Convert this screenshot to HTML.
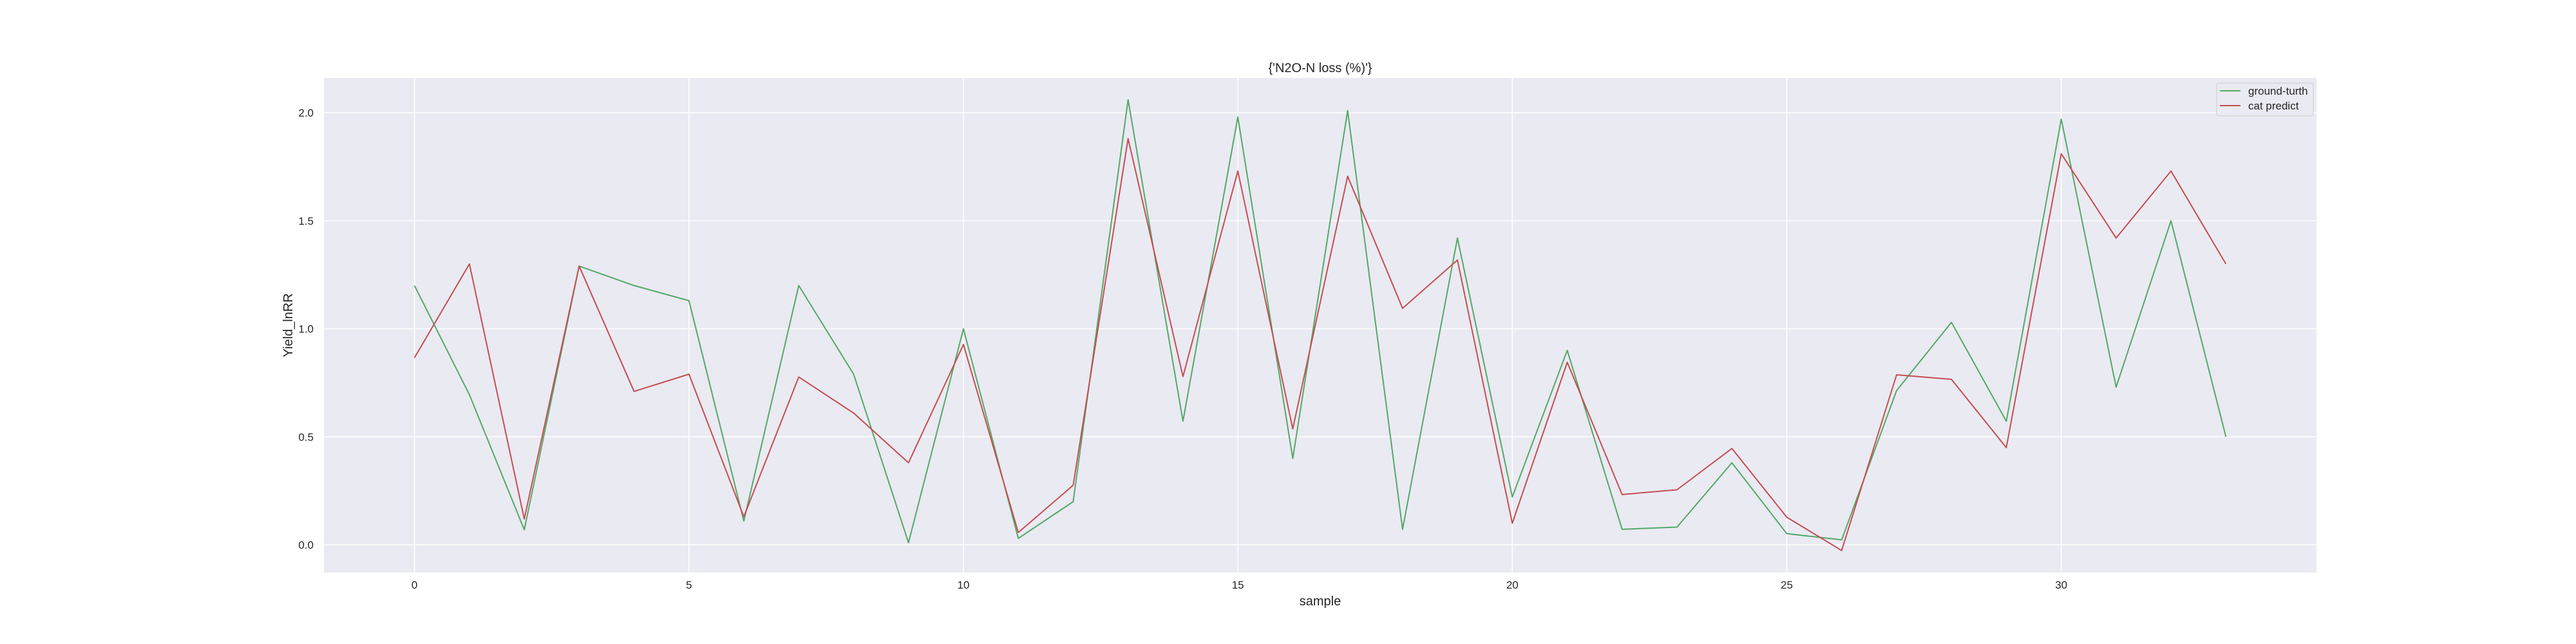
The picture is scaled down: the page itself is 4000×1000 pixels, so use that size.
<!DOCTYPE html>
<html><head><meta charset="utf-8"><style>
html,body{margin:0;padding:0;background:#fff;}
svg{display:block;font-family:"Liberation Sans","DejaVu Sans",sans-serif;}
</style></head><body>
<svg id="chart" width="4000" height="1000" viewBox="0 0 4000 1000" xmlns="http://www.w3.org/2000/svg">
<rect x="503" y="121" width="3094" height="768" fill="#eaeaf2"/>
<g id="grid"></g>
<g id="series"></g>
<g id="ticks"></g>
<text x="2050" y="112" font-size="20" fill="#262626" text-anchor="middle">{'N2O-N loss (%)'}</text>
<text x="2050" y="940" font-size="20" fill="#262626" text-anchor="middle">sample</text>
<text x="454" y="505" font-size="20" fill="#262626" text-anchor="middle" transform="rotate(-90 454 505)">Yield_lnRR</text>
<g>
<rect x="3442" y="129" width="150" height="51" rx="3" fill="#eaeaf2" stroke="#cccccc" stroke-width="1"/>
<line x1="3447" y1="141" x2="3479" y2="141" stroke="#55a868" stroke-width="2"/>
<text x="3491" y="147" font-size="17" fill="#262626">ground-turth</text>
<line x1="3447" y1="164" x2="3479" y2="164" stroke="#c44e52" stroke-width="2"/>
<text x="3491" y="170" font-size="17" fill="#262626">cat predict</text>
</g>
</svg>
<script>
const groundTruth = [1.20,0.695,0.07,1.29,1.20,1.13,0.11,1.20,0.79,0.01,1.00,0.03,0.20,2.06,0.572,1.98,0.40,2.01,0.072,1.42,0.222,0.90,0.072,0.082,0.38,0.052,0.023,0.714,1.03,0.572,1.97,0.73,1.50,0.50];
const catPredict = [0.866,1.30,0.12,1.29,0.71,0.79,0.13,0.777,0.61,0.38,0.927,0.057,0.276,1.88,0.779,1.73,0.537,1.706,1.095,1.318,0.10,0.845,0.233,0.255,0.446,0.128,-0.026,0.787,0.766,0.45,1.81,1.42,1.73,1.30];
const xTicks = [0,5,10,15,20,25,30];
const yTicks = [0.0,0.5,1.0,1.5,2.0];
const yTickLabels = ["0.0","0.5","1.0","1.5","2.0"];

const NS = "http://www.w3.org/2000/svg";
const L=503,R=3597,T=121,B=889;
const xMin=-1.65,xMax=34.65,yMin=-0.128,yMax=2.161;
function xs(v){return L+(v-xMin)/(xMax-xMin)*(R-L);}
function ys(v){return B-(v-yMin)/(yMax-yMin)*(B-T);}
function mk(tag,attrs,parent){const e=document.createElementNS(NS,tag);for(const k in attrs)e.setAttribute(k,attrs[k]);parent.appendChild(e);return e;}
const grid=document.getElementById('grid'),ticks=document.getElementById('ticks'),series=document.getElementById('series');
xTicks.forEach(t=>{
  const g=mk('line',{x1:xs(t),x2:xs(t),y1:T,y2:B,stroke:'#fff','stroke-width':1.5},grid);
  
  
  const tx=mk('text',{x:xs(t),y:914,'font-size':17,fill:'#262626','text-anchor':'middle'},ticks);
  tx.textContent=t;
  
  
});
yTicks.forEach((t,i)=>{
  const g=mk('line',{x1:L,x2:R,y1:ys(t),y2:ys(t),stroke:'#fff','stroke-width':1.5},grid);
  
  
  const tx=mk('text',{x:487,y:ys(t)+6,'font-size':17,fill:'#262626','text-anchor':'end'},ticks);
  tx.textContent=yTickLabels[i];
  
  
});
function line(data,color,name){
  const pts=data.map((v,i)=>xs(i).toFixed(1)+','+ys(v).toFixed(1)).join(' ');
  const p=mk('polyline',{points:pts,fill:'none',stroke:color,'stroke-width':2,'stroke-linejoin':'round'},series);
  
  
}
line(groundTruth,'#55a868','ground-truth-line');
line(catPredict,'#c44e52','cat-predict-line');
</script>
</body></html>
